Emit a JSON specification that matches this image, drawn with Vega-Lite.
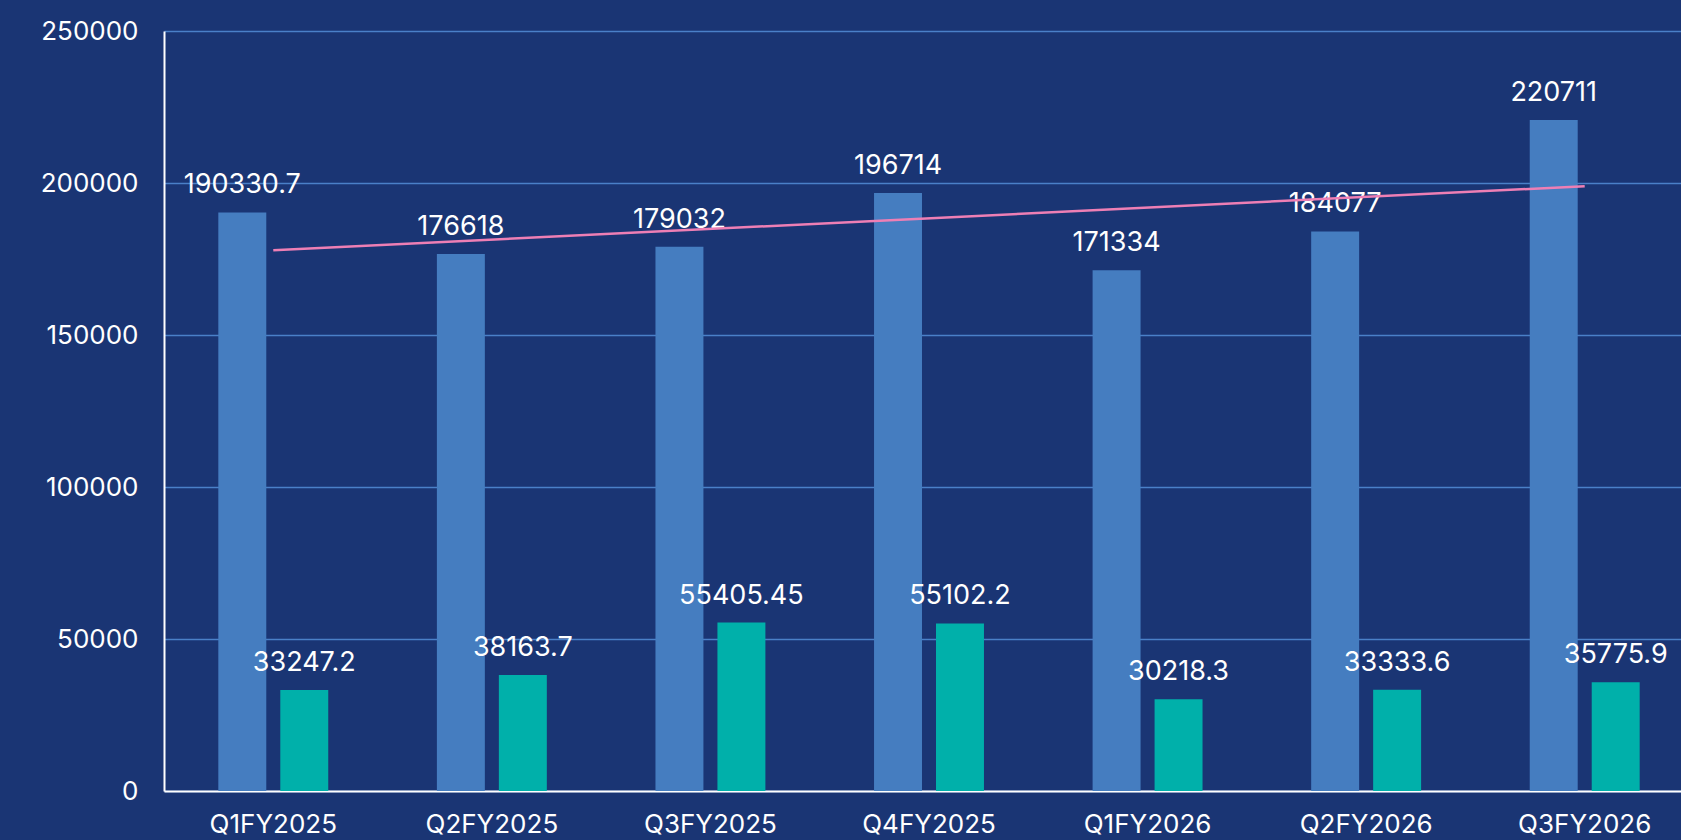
{
  "$schema": "https://vega.github.io/schema/vega-lite/v6.json",
  "autosize": "none",
  "width": 1517,
  "height": 760,
  "padding": {"left": 164, "top": 31, "right": 0, "bottom": 49},
  "background": "#1a3574",
  "config": {
    "view": {"stroke": null},
    "font": "Inter",
    "axis": {"labelFont": "Inter", "labelColor": "#ffffff", "labelFontSize": 26}
  },
  "datasets": {
    "bars": [
      {"quarter": "Q1FY2025", "series": "Series1", "value": 190330.7},
      {"quarter": "Q1FY2025", "series": "Series2", "value": 33247.2},
      {"quarter": "Q2FY2025", "series": "Series1", "value": 176618},
      {"quarter": "Q2FY2025", "series": "Series2", "value": 38163.7},
      {"quarter": "Q3FY2025", "series": "Series1", "value": 179032},
      {"quarter": "Q3FY2025", "series": "Series2", "value": 55405.45},
      {"quarter": "Q4FY2025", "series": "Series1", "value": 196714},
      {"quarter": "Q4FY2025", "series": "Series2", "value": 55102.2},
      {"quarter": "Q1FY2026", "series": "Series1", "value": 171334},
      {"quarter": "Q1FY2026", "series": "Series2", "value": 30218.3},
      {"quarter": "Q2FY2026", "series": "Series1", "value": 184077},
      {"quarter": "Q2FY2026", "series": "Series2", "value": 33333.6},
      {"quarter": "Q3FY2026", "series": "Series1", "value": 220711},
      {"quarter": "Q3FY2026", "series": "Series2", "value": 35775.9}
    ],
    "trend": [
      {"quarter": "Q1FY2025", "trend": 177864},
      {"quarter": "Q3FY2026", "trend": 198941}
    ]
  },
  "encoding": {
    "x": {
      "field": "quarter",
      "type": "nominal",
      "title": null,
      "scale": {
        "domain": ["Q1FY2025", "Q2FY2025", "Q3FY2025", "Q4FY2025", "Q1FY2026", "Q2FY2026", "Q3FY2026"],
        "range": [0, 1530],
        "paddingInner": 0.497,
        "paddingOuter": 0.2485
      },
      "axis": {
        "labelAngle": 0,
        "ticks": false,
        "domainColor": "#ffffff",
        "domainWidth": 2,
        "labelPadding": 20,
        "grid": false
      }
    }
  },
  "layer": [
    {
      "data": {"name": "bars"},
      "mark": {"type": "bar"},
      "encoding": {
        "xOffset": {
          "field": "series",
          "type": "nominal",
          "scale": {"paddingInner": 0.226, "paddingOuter": 0}
        },
        "y": {
          "field": "value",
          "type": "quantitative",
          "title": null,
          "scale": {"domain": [0, 250000], "nice": false},
          "axis": {
            "values": [0, 50000, 100000, 150000, 200000, 250000],
            "format": "d",
            "ticks": false,
            "domainColor": "#ffffff",
            "domainWidth": 2,
            "gridColor": "#4a80c8",
            "gridWidth": 1.5,
            "labelPadding": 26
          }
        },
        "color": {
          "field": "series",
          "type": "nominal",
          "scale": {"domain": ["Series1", "Series2"], "range": ["#457dc0", "#00b0aa"]},
          "legend": null
        }
      }
    },
    {
      "data": {"name": "bars"},
      "mark": {"type": "text", "color": "#ffffff", "fontSize": 27, "font": "Inter", "baseline": "middle", "dy": -27},
      "encoding": {
        "xOffset": {
          "field": "series",
          "type": "nominal",
          "scale": {"paddingInner": 0.226, "paddingOuter": 0}
        },
        "y": {"field": "value", "type": "quantitative"},
        "text": {"field": "value", "type": "nominal"}
      }
    },
    {
      "data": {"name": "trend"},
      "mark": {"type": "line", "color": "#ee7fb5", "strokeWidth": 2.5},
      "encoding": {
        "y": {"field": "trend", "type": "quantitative"}
      }
    }
  ]
}
